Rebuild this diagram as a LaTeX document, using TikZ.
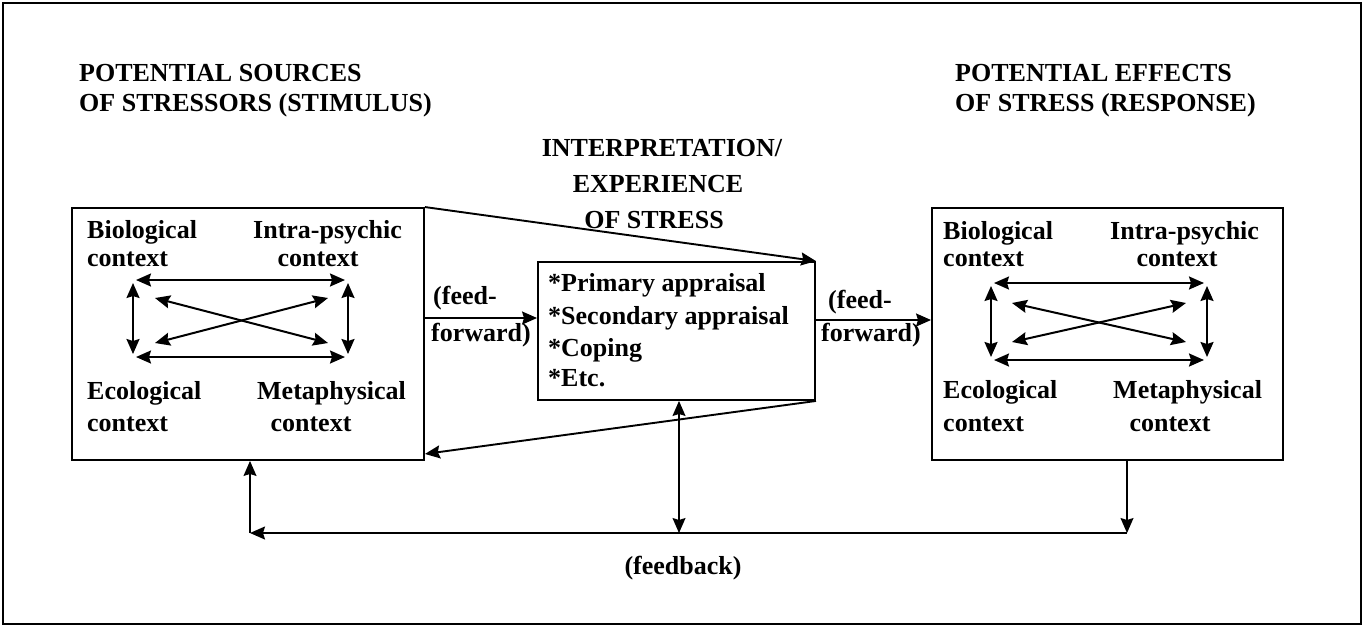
\documentclass[tikz,border=0pt]{standalone}
\usepackage{fontspec}
\setmainfont{Liberation Serif}
\usetikzlibrary{arrows.meta,calc}

\tikzset{
  hd/.tip={Stealth[length=15pt,width=13pt,inset=2pt]},
  frame/.style={draw, line width=1.4pt, inner sep=0pt},
  ctxbox/.style={draw, line width=1.9pt, inner sep=0pt},
  txt/.style={font=\fontsize{26}{30}\selectfont\bfseries, inner sep=0pt,
              text height=18pt, text depth=6pt},
  head/.style={txt},
  arr/.style={-{hd}, line width=1.9pt},
  darr/.style={{hd}-{hd}, line width=2pt},
  thinarr/.style={-{hd}, line width=1.2pt},
  thindarr/.style={{hd}-{hd}, line width=1.2pt},
}

\begin{document}
\begin{tikzpicture}[x=1pt, y=-1pt]
\useasboundingbox (0,0) rectangle (1364,633);

% outer frame
\node[frame, minimum width=1358pt, minimum height=621pt] (frame) at (682,313.5) {};

% headings
\node[head, anchor=west] (hl1) at (79,75) {POTENTIAL SOURCES};
\node[head, anchor=west] (hl2) at (79,105) {OF STRESSORS (STIMULUS)};
\node[head, anchor=west] (hr1) at (955,75) {POTENTIAL EFFECTS};
\node[head, anchor=west] (hr2) at (955,105) {OF STRESS (RESPONSE)};

\node[head] (t1) at (662,150) {INTERPRETATION/};
\node[head] (t2) at (658,186) {EXPERIENCE};
\node[head] (t3) at (654,222) {OF STRESS};

% the three boxes
\node[ctxbox, minimum width=352pt, minimum height=252pt] (L) at (248,334) {};
\node[ctxbox, minimum width=351pt, minimum height=252pt] (R) at (1107.5,334) {};
\node[ctxbox, minimum width=277pt, minimum height=138pt] (C) at (676.5,331) {};

% labels of the source box
\node[txt, anchor=west] (lb1) at (87,232) {Biological};
\node[txt, anchor=west] (lb2) at (87,260) {context};
\node[txt, anchor=west] (li1) at (253,232) {Intra-psychic};
\node[txt] (li2) at (318,260) {context};
\node[txt, anchor=west] (le1) at (87,393) {Ecological};
\node[txt, anchor=west] (le2) at (87,425) {context};
\node[txt, anchor=west] (lm1) at (257,393) {Metaphysical};
\node[txt] (lm2) at (311,425) {context};

% labels of the effects box
\node[txt, anchor=west] (rb1) at (943,233) {Biological};
\node[txt, anchor=west] (rb2) at (943,260) {context};
\node[txt, anchor=west] (ri1) at (1110,233) {Intra-psychic};
\node[txt] (ri2) at (1177,260) {context};
\node[txt, anchor=west] (re1) at (943,392) {Ecological};
\node[txt, anchor=west] (re2) at (943,425) {context};
\node[txt, anchor=west] (rm1) at (1113,392) {Metaphysical};
\node[txt] (rm2) at (1170,425) {context};

% interpretation box text
\node[txt, anchor=west] (c1) at (548,285) {*Primary appraisal};
\node[txt, anchor=west] (c2) at (548,318) {*Secondary appraisal};
\node[txt, anchor=west] (c3) at (548,350) {*Coping};
\node[txt, anchor=west] (c4) at (548,380) {*Etc.};

% feed-forward labels
\node[txt, anchor=west] (ffl1) at (433,298) {(feed-};
\node[txt, anchor=west] (ffl2) at (431,335) {forward)};
\node[txt, anchor=west] (ffr1) at (828,302) {(feed-};
\node[txt, anchor=west] (ffr2) at (821,335) {forward)};

\node[txt] (fb) at (683,568) {(feedback)};

% corner points of the arrow squares
\coordinate (aNW) at (133,280); \coordinate (aNE) at (348,280);
\coordinate (aSW) at (133,357); \coordinate (aSE) at (348,357);
\coordinate (xNW) at (155,298); \coordinate (xNE) at (328,298);
\coordinate (xSW) at (155,343); \coordinate (xSE) at (328,343);

\coordinate (bNW) at (991,283); \coordinate (bNE) at (1207,283);
\coordinate (bSW) at (991,360); \coordinate (bSE) at (1207,360);
\coordinate (yNW) at (1012,303); \coordinate (yNE) at (1186,303);
\coordinate (ySW) at (1012,342); \coordinate (ySE) at (1186,342);

% interactions among the four contexts (sources)
\draw[darr] ([xshift=3pt]aNW) -- ([xshift=-3pt]aNE);
\draw[darr] ([xshift=3pt]aSW) -- ([xshift=-3pt]aSE);
\draw[darr] ([yshift=-3pt]aNW) -- ([yshift=3pt]aSW);
\draw[darr] ([yshift=-3pt]aNE) -- ([yshift=3pt]aSE);
\draw[darr] (xNW) -- (xSE);
\draw[darr] (xSW) -- (xNE);

% interactions among the four contexts (effects)
\draw[darr] ([xshift=3pt]bNW) -- ([xshift=-3pt]bNE);
\draw[darr] ([xshift=3pt]bSW) -- ([xshift=-3pt]bSE);
\draw[darr] ([yshift=-3pt]bNW) -- ([yshift=3pt]bSW);
\draw[darr] ([yshift=-3pt]bNE) -- ([yshift=3pt]bSE);
\draw[darr] (yNW) -- (ySE);
\draw[darr] (ySW) -- (yNE);

% feed-forward arrows
\draw[arr] (L.east |- 0,318) -- (C.west |- 0,318);
\draw[arr] (C.east |- 0,320) -- (R.west |- 0,320);

% funnel lines between source box and interpretation box
\draw[arr] (L.north east) -- (C.north east);
\draw[arr] (C.south east) -- ([yshift=7pt]L.south east);

% feedback loop
\coordinate (fbR) at (1127,533);
\coordinate (fbL) at (250,533);
\coordinate (fbM) at (679,533);
\draw[thindarr] (C.south -| fbM) -- (fbM);
\draw[thinarr] (R.south -| fbR) -- (fbR);
\draw[thinarr, line width=1.6pt] (fbR) -- (fbL);
\draw[thinarr] (fbL) -- (L.south -| fbL);
\end{tikzpicture}
\end{document}
